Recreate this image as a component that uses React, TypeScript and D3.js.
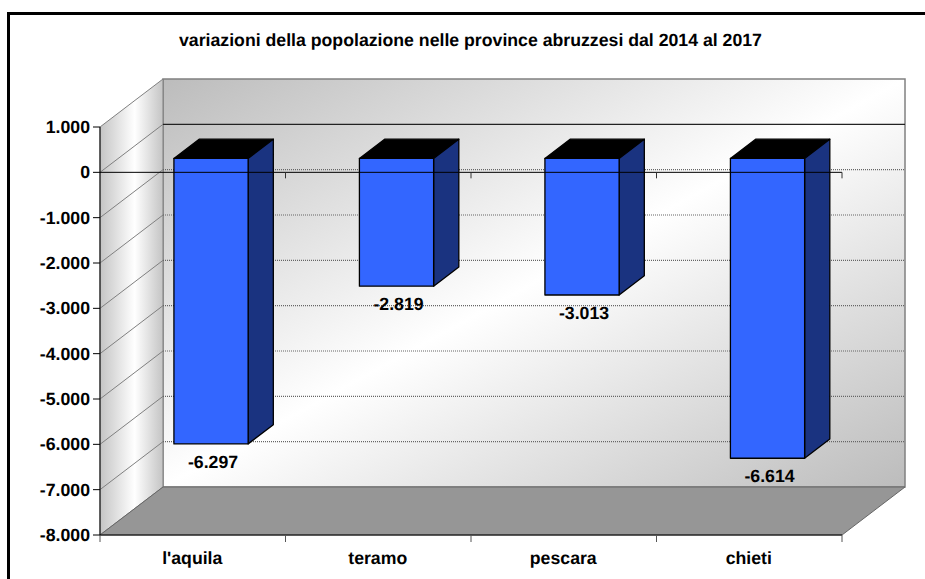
import * as d3 from "d3";

const categories = ["l'aquila", "teramo", "pescara", "chieti"];
const values = [-6297, -2819, -3013, -6614];
const yTicks = [1000, 0, -1000, -2000, -3000, -4000, -5000, -6000, -7000, -8000];
const title = "variazioni della popolazione nelle province abruzzesi dal 2014 al 2017";

const W = 925;
const H = 579;
const FONT = "'Liberation Sans', Arial, sans-serif";

// front plane of the 3d box, the back wall is this shifted by depth
const left = 100;
const right = 842;
const top = 127;
const bottom = 535;
const depthX = 63;
const depthY = -48;
const barStart = 0.29; // bar front face, as a share of the depth
const barDepth = 0.4;

const x = d3.scaleBand<string>().domain(categories).range([left, right]).paddingInner(0).paddingOuter(0);
const y = d3.scaleLinear().domain([-8000, 1000]).range([bottom, top]);
const fmtNum = d3.formatLocale({ decimal: ",", thousands: ".", grouping: [3], currency: ["", "€"], minus: "-" }).format(",d");

export default function App() {
  const band = x.bandwidth();
  const barW = band * 0.4;
  const dx0 = depthX * barStart;
  const dy0 = depthY * barStart;
  const bdx = depthX * barDepth;
  const bdy = depthY * barDepth;
  const edges = [...categories.map((c) => x(c) as number), right];

  return (
    <svg
      width={W}
      height={H}
      viewBox={`0 0 ${W} ${H}`}
      style={{ position: "fixed", left: 0, top: 0, background: "#fff" }}
      fontFamily={FONT}
      textRendering="geometricPrecision"
    >
      <defs>
        <linearGradient id="wall" x1="0" y1="0" x2="1" y2="1">
          <stop offset="0" stopColor="#bcbcbc" />
          <stop offset="0.5" stopColor="#ffffff" />
          <stop offset="1" stopColor="#bcbcbc" />
        </linearGradient>
        <linearGradient id="side" x1="0" y1="0" x2="1" y2="0">
          <stop offset="0" stopColor="#c4c4c4" />
          <stop offset="0.55" stopColor="#ffffff" />
          <stop offset="1" stopColor="#c4c4c4" />
        </linearGradient>
      </defs>

      <path d={`M8.5,${H} V13.5 H${W}`} fill="none" stroke="#000" strokeWidth={3} />

      <text x={470.5} y={46} textAnchor="middle" fontSize={17.7} fontWeight="bold" fill="#000">
        {title}
      </text>

      {/* walls and floor */}
      <rect x={left + depthX} y={top + depthY} width={right - left} height={bottom - top} fill="url(#wall)" stroke="#808080" strokeWidth={1.5} />
      <path
        d={`M${left},${top} L${left + depthX},${top + depthY} V${bottom + depthY} L${left},${bottom} Z`}
        fill="url(#side)"
        stroke="#808080"
      />
      <path
        d={`M${left},${bottom} L${left + depthX},${bottom + depthY} H${right + depthX} L${right},${bottom} Z`}
        fill="#969696"
        stroke="#666"
      />

      {/* gridlines, running along the side wall then the back wall */}
      {yTicks.slice(1, -1).map((t) => (
        <g key={t} fill="none">
          <line x1={left} x2={left + depthX} y1={y(t)} y2={y(t) + depthY} stroke="#808080" />
          <line
            x1={left + depthX}
            x2={right + depthX}
            y1={y(t) + depthY}
            y2={y(t) + depthY}
            stroke={t === 0 ? "#222" : "#666"}
            strokeWidth={t === 0 ? 1.2 : 1.2}
            strokeDasharray={t === 0 ? undefined : "1 1"}
          />
        </g>
      ))}

      {/* bars */}
      {categories.map((c, i) => {
        const x0 = (x(c) as number) + (band - barW) / 2 + dx0;
        const x1 = x0 + barW;
        const y0 = y(0) + dy0;
        const y1 = y(values[i]) + dy0;
        return (
          <g key={c} stroke="#000" strokeWidth={1.3} strokeLinejoin="round">
            <path d={`M${x0},${y0} L${x0 + bdx},${y0 + bdy} H${x1 + bdx} L${x1},${y0} Z`} fill="#000" />
            <path d={`M${x1},${y0} L${x1 + bdx},${y0 + bdy} V${y1 + bdy} L${x1},${y1} Z`} fill="#1a3380" />
            <rect x={x0} y={y0} width={barW} height={y1 - y0} fill="#3366ff" />
          </g>
        );
      })}

      {/* zero axis sits in front of the bars */}
      <line x1={left} x2={right} y1={y(0)} y2={y(0)} stroke="#000" strokeWidth={1} />
      {edges.slice(1).map((e) => (
        <line key={e} x1={e} x2={e} y1={y(0)} y2={y(0) + 6} stroke="#333" />
      ))}

      {/* front axes */}
      <line x1={left} x2={left} y1={top} y2={bottom} stroke="#000" />
      <line x1={left} x2={right} y1={bottom} y2={bottom} stroke="#000" strokeWidth={1.2} />
      {edges.map((e) => (
        <line key={e} x1={e} x2={e} y1={bottom} y2={bottom + 7} stroke="#555" />
      ))}
      {yTicks.map((t) => (
        <g key={t}>
          <line x1={left - 7} x2={left} y1={y(t)} y2={y(t)} stroke="#000" />
          <text x={left - 10} y={y(t) + 6} textAnchor="end" fontSize={17.7} fontWeight="bold" fill="#000">
            {fmtNum(t)}
          </text>
        </g>
      ))}

      {categories.map((c, i) => (
        <g key={c} fontSize={17.7} fontWeight="bold" fill="#000" textAnchor="middle">
          <text x={(x(c) as number) + band / 2 - 0.5} y={564}>
            {c}
          </text>
          <text x={(x(c) as number) + band / 2 + dx0 + 2} y={y(values[i]) + dy0 + 24}>
            {fmtNum(values[i])}
          </text>
        </g>
      ))}
    </svg>
  );
}
